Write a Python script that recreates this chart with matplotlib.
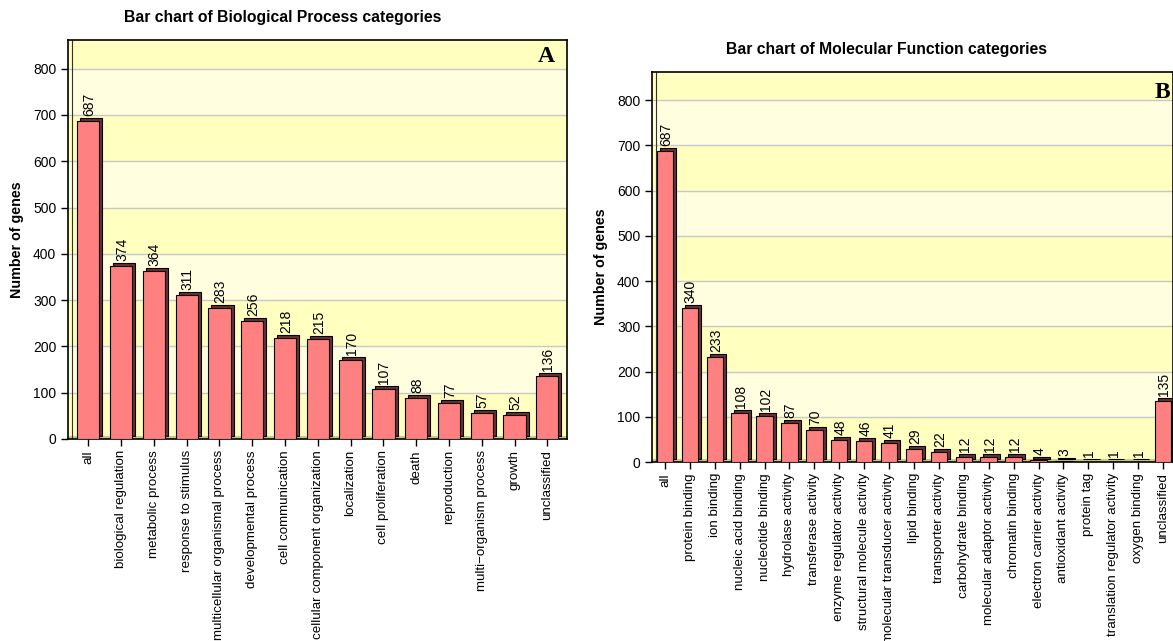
import matplotlib
matplotlib.use("Agg")
import matplotlib.pyplot as plt
from matplotlib import transforms

plt.rcParams['font.family'] = ['Liberation Sans', 'DejaVu Sans']

# Biological Process categories
bp_categories = [
    "all", "biological regulation", "metabolic process", "response to stimulus",
    "multicellular organismal process", "developmental process", "cell communication",
    "cellular component organization", "localization", "cell proliferation", "death",
    "reproduction", "multi\u2212organism process", "growth", "unclassified",
]
bp_counts = [687, 374, 364, 311, 283, 256, 218, 215, 170, 107, 88, 77, 57, 52, 136]

# Molecular Function categories
mf_categories = [
    "all", "protein binding", "ion binding", "nucleic acid binding", "nucleotide binding",
    "hydrolase activity", "transferase activity", "enzyme regulator activity",
    "structural molecule activity", "molecular transducer activity", "lipid binding",
    "transporter activity", "carbohydrate binding", "molecular adaptor activity",
    "chromatin binding", "electron carrier activity", "antioxidant activity",
    "protein tag", "translation regulator activity", "oxygen binding", "unclassified",
]
mf_counts = [687, 340, 233, 108, 102, 87, 70, 48, 46, 41, 29, 22, 12, 12, 12, 4, 3, 1, 1, 1, 135]

yticks = list(range(0, 900, 100))

W, H = 1173, 641
fig = plt.figure(figsize=(W / 100, H / 100), dpi=100)


def px_axes(left, top, right, bottom):
    return fig.add_axes([left / W, 1 - bottom / H, (right - left) / W, (bottom - top) / H])


def draw_panel(ax, cats, vals, xlim, ymax, title, title_x, letter, letter_xy, width):
    ax.set_xlim(*xlim)
    ax.set_ylim(0, ymax)
    # alternating background bands
    for lo in range(0, 900, 100):
        col = "#ffffc0" if (lo // 100) % 2 == 0 else "#ffffe0"
        ax.axhspan(lo, min(lo + 100, ymax), color=col, zorder=0, lw=0)
    for t in yticks[1:]:
        ax.axhline(t, color="#c8c8c8", lw=1.0, zorder=0.5)
    # floor strip and inner wall line
    ax.axhspan(0, ymax * 0.008, color="#c8c888", zorder=0.6, lw=0)
    wall = transforms.offset_copy(ax.transAxes, fig=fig, x=4, y=0, units="dots")
    ax.plot([0, 0], [0, 1], color="#333333", lw=0.8, transform=wall, zorder=0.7)

    x = list(range(len(cats)))
    depth = transforms.offset_copy(ax.transData, fig=fig, x=3, y=3, units="dots")
    ax.bar(x, vals, width=width, color="#6b3030", edgecolor="black", lw=0.8,
           transform=depth, zorder=2)
    ax.bar(x, vals, width=width, color="#ff8080", edgecolor="black", lw=0.8, zorder=3)
    lab = transforms.offset_copy(ax.transData, fig=fig, x=1, y=5, units="dots")
    for xi, v in zip(x, vals):
        ax.text(xi, v, str(v), rotation=90, ha="center", va="bottom", fontsize=10,
                transform=lab, zorder=4)

    ax.set_xticks(x)
    ax.set_xticklabels(cats, rotation=90, fontsize=9.6)
    ax.set_yticks(yticks)
    ax.set_yticklabels([str(t) for t in yticks], fontsize=10)
    ax.tick_params(axis="both", direction="out", length=5, width=1, color="black")
    ax.tick_params(axis="x", pad=3)
    for s in ax.spines.values():
        s.set_color("black")
        s.set_linewidth(1.2)
    ax.set_ylabel("Number of genes", fontsize=10.3, fontweight="bold", labelpad=6)
    ax.set_title(title, fontsize=11.3, fontweight="bold", pad=13, x=title_x)
    ax.text(*letter_xy, letter, transform=ax.transAxes, ha="right", va="top",
            fontsize=17, fontweight="bold", family=["Liberation Serif", "DejaVu Serif"],
            zorder=5)


axA = px_axes(68, 40, 567, 439)
draw_panel(axA, bp_categories, bp_counts, (-0.62, 14.6), 862,
           "Bar chart of Biological Process categories", 0.43,
           "A", (0.975, 0.985), 0.68)

axB = px_axes(652, 72, 1173, 462)
draw_panel(axB, mf_categories, mf_counts, (-0.52, 20.4), 862,
           "Bar chart of Molecular Function categories", 0.45,
           "B", (0.995, 0.975), 0.66)

fig.savefig("out.png", dpi=100)
